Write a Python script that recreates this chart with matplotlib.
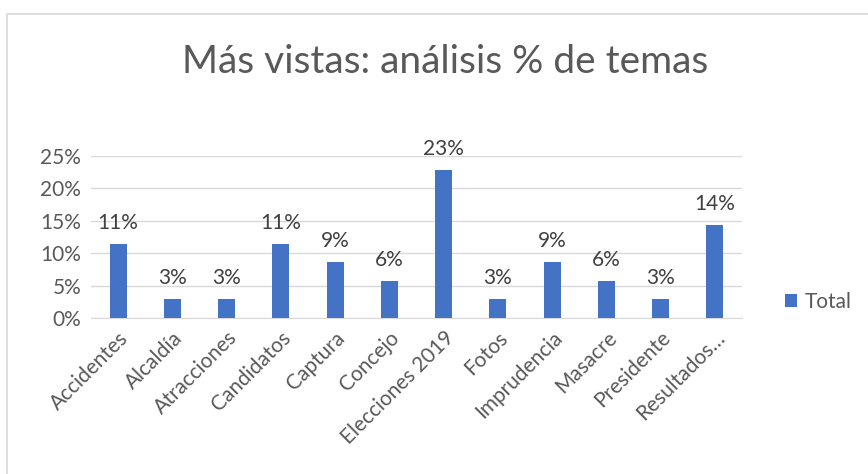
import matplotlib.pyplot as plt
import matplotlib.patches as mpatches
import numpy as np

# data
temas = ["Accidentes", "Alcaldía", "Atracciones", "Candidatos", "Captura", "Concejo",
         "Elecciones 2019", "Fotos", "Imprudencia", "Masacre", "Presidente", "Resultados…"]
total = [0.114, 0.029, 0.029, 0.114, 0.086, 0.057, 0.229, 0.029, 0.086, 0.057, 0.029, 0.143]
etiquetas = ["11%", "3%", "3%", "11%", "9%", "6%", "23%", "3%", "9%", "6%", "3%", "14%"]
yticks = [0, 0.05, 0.10, 0.15, 0.20, 0.25]
ytick_labels = ["0%", "5%", "10%", "15%", "20%", "25%"]

plt.rcParams['font.family'] = ['Lato', 'DejaVu Sans']
gris = "#595959"

fig = plt.figure(figsize=(8.68, 4.74), dpi=100)
# chart frame
fig.patches.append(mpatches.Rectangle((7/868, -0.01), 1.0, 1 - 14/474 + 0.01, transform=fig.transFigure,
                                      fill=False, edgecolor="#d9d9d9", linewidth=1.2))

ax = fig.add_axes([91/868, 156/474, 651/868, 162/474])
x = np.arange(len(temas))
bars = ax.bar(x, total, width=0.31, color="#4472C4", label="Total", zorder=3)

for xi, v, lab in zip(x, total, etiquetas):
    ax.text(xi, v + 0.017, lab, ha="center", va="bottom", fontsize=15, color="#404040")

ax.set_xlim(-0.5, len(temas) - 0.5)
ax.set_ylim(0, 0.25)
ax.set_yticks(yticks)
ax.set_yticklabels(ytick_labels, fontsize=15, color=gris)
ax.set_xticks(x)
ax.set_xticklabels(temas, rotation=45, ha="right", rotation_mode="anchor", fontsize=15, color=gris)
ax.tick_params(length=0, pad=7)
ax.grid(axis="y", color="#d9d9d9", linewidth=1, zorder=0)
for s in ["top", "right", "left"]:
    ax.spines[s].set_visible(False)
ax.spines["bottom"].set_color("#d9d9d9")

fig.text(445/868, 1 - 62/474, "Más vistas: análisis % de temas", ha="center", va="center",
         fontsize=28, color=gris)

fig.legend(handles=[bars], labels=["Total"], loc="center left", bbox_to_anchor=(766/868, 1 - 302/474),
           frameon=False, fontsize=15, handlelength=0.6, handleheight=0.6, handletextpad=0.35,
           labelcolor=gris)

fig.savefig("out.png", dpi=100)
